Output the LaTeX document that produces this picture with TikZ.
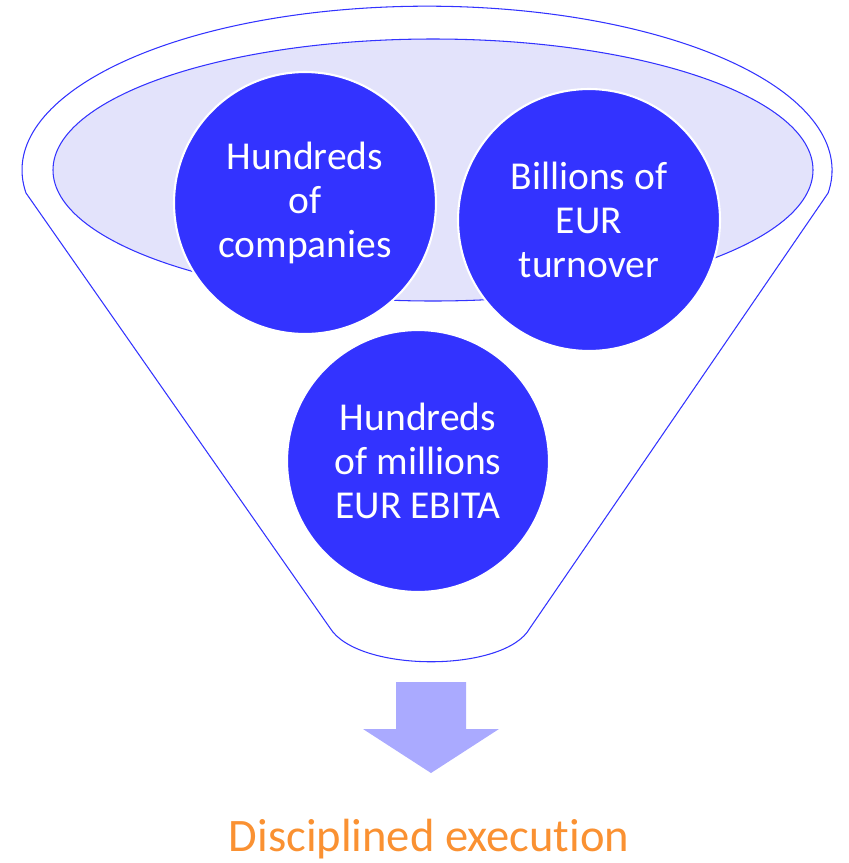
\documentclass[tikz,border=0pt]{standalone}
\usepackage{fontspec}
\setmainfont[Ligatures={TeX,NoCommon}]{Carlito}
\usetikzlibrary{shapes.geometric}

\definecolor{funnelblue}{RGB}{51,51,255}
\definecolor{rimfill}{RGB}{227,227,251}
\definecolor{arrowfill}{RGB}{170,170,255}
\definecolor{resultorange}{RGB}{250,145,50}

\tikzset{
  funnel/.style={draw=funnelblue,line width=0.6pt},
  bubble/.style={circle,fill=funnelblue,draw=white,line width=1.2pt,
    minimum size=5.24cm,inner sep=0pt,align=center,text=white,
    font=\fontsize{22.5}{25}\selectfont},
  result/.style={text=resultorange,font=\fontsize{26.5}{30}\selectfont}
}

\begin{document}
\begin{tikzpicture}[x=0.02cm,y=-0.02cm]
\useasboundingbox (0,0) rectangle (849,863);

% outer outline of the funnel
\draw[funnel] (26,193) coordinate (rimleft)
  arc[start angle=172,end angle=368,x radius=405,y radius=164]
  coordinate (rimright) -- (530,628) coordinate (neckright)
  .. controls (505,673) and (358,673) .. (330,628) coordinate (neckleft) -- cycle;

% the opening
\draw[funnel,fill=rimfill] (433,170) ellipse[x radius=380,y radius=131];

% the three bubbles
\foreach \name/\pos/\txt in {companies/{(305,203)}/{Hundreds\\of\\companies},
                             turnover/{(589,220)}/{Billions of\\EUR\\turnover},
                             ebita/{(418,461)}/{Hundreds\\of millions\\EUR EBITA}}
  \node[bubble] (\name) at \pos {\txt};

% block arrow out of the neck
\fill[arrowfill] (396,682) -- (466,682) -- (466,729) -- (499,729)
  -- (431,773) -- (363,729) -- (396,729) -- cycle;

\node[result,anchor=base] (execution) at (429,851) {Disciplined execution};

\end{tikzpicture}
\end{document}
